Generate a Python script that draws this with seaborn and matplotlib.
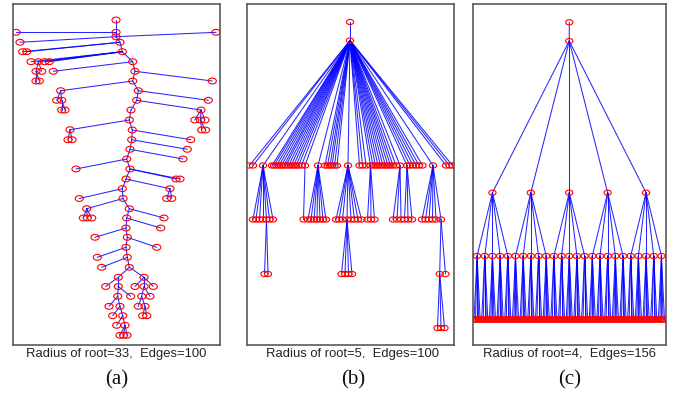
import numpy as np
import pandas as pd
import matplotlib
matplotlib.use("Agg")
import matplotlib.pyplot as plt
from matplotlib.path import Path
from matplotlib.markers import MarkerStyle
from matplotlib.transforms import Affine2D
import seaborn as sns

sns.set_theme(style="white")
plt.rcParams["font.family"] = ["Liberation Sans", "DejaVu Sans"]

# ---------------- tree (a): free layout, one entry per node ----------------
a_x = [116, 116, 116, 120, 122.3, 132.7, 135, 132.7, 138.3, 136.7,
       131, 129.3, 132.3, 131.7, 130, 126.7, 130, 126, 122.3, 123,
       129.3, 126.7, 126, 127.3, 126, 127.3, 129.3,
       118.3, 105.7, 118.3, 117.7, 130.7, 109, 120, 112.7, 122.7,
       116.7, 125, 120, 123.5, 127,
       144, 135, 144, 153.3, 141.7, 150, 138.3, 145, 142.7, 146.7,
       16, 216, 20, 22.7, 26.7, 31, 38.3, 44.5, 49.3, 36,
       41.7, 36, 39.3, 53.3, 212.3, 60.7, 56.7, 61.7, 61.7, 65,
       208.3, 201, 194.8, 200.5, 205, 201.7, 205.5, 70, 68, 72,
       190.7, 187.3, 183, 76, 176, 180, 170, 166.7, 171.7, 79.3,
       86.7, 83.3, 87.3, 91.7, 164, 160.7, 95, 156.7, 97.3, 101.7]
a_y = [20, 32.3, 36.7, 42.3, 51.7, 61.7, 71.3, 81, 90.7, 100.3,
       110, 120, 130, 139.7, 149.3, 159, 169, 179, 188.7, 198.5,
       208.7, 218, 228, 237.3, 247.3, 257.3, 267.3,
       277.3, 286.5, 286.5, 296.3, 296.3, 306.3, 306.3, 315.7, 315.7,
       325.3, 325.3, 335.3, 335.3, 335.3,
       277.3, 286.5, 286.5, 286.5, 296.3, 296.3, 306.3, 306.3, 315.7, 315.7,
       32.3, 32.3, 42.3, 51.7, 51.7, 61.7, 61.7, 61.7, 61.7, 71.3,
       71.3, 81, 81, 71.3, 81, 90.7, 100.3, 100.3, 110, 110,
       100.3, 110, 120, 120, 120, 130, 130, 129.7, 139.7, 139.7,
       139.7, 149.3, 159, 169, 179, 179, 188.7, 198.5, 198.5, 198.5,
       208.7, 218, 218, 218, 218, 228, 237.3, 247.3, 257.3, 267.3]
a_parent = [-1, 0, 1, 2, 3, 4, 5, 6, 7, 8,
            9, 10, 11, 12, 13, 14, 15, 16, 17, 18,
            19, 20, 21, 22, 23, 24, 25,
            26, 27, 27, 29, 29, 30, 30, 33, 33,
            35, 35, 37, 37, 37,
            26, 41, 41, 41, 43, 43, 45, 45, 48, 48,
            1, 2, 2, 3, 3, 4, 4, 4, 4, 57,
            57, 60, 60, 5, 6, 7, 66, 66, 68, 68,
            8, 9, 72, 72, 72, 74, 74, 11, 78, 78,
            12, 13, 14, 15, 16, 16, 17, 87, 87, 18,
            19, 91, 91, 91, 20, 21, 22, 23, 24, 25]

# ---------------- tree (b): layered, x per level and parent in level above ----------------
b_level_y = [22, 40.5, 165.5, 219.5, 274, 328]
b_top_x = [350, 350]
b_l1_x = [249.5, 253, 263,
          272, 274, 276.5, 279, 281.5, 284, 286, 288.5, 291, 293.5, 296, 298.5, 301.5, 305,
          318, 325, 327.5, 330, 332, 334.5, 337, 348, 359.5, 362.5, 366,
          370.5, 373, 375.5, 378, 380.5, 383, 385.5, 388, 390.5, 393, 396,
          400, 407, 410, 413, 416, 419, 422.5, 433, 446, 449.5, 452.5]
b_l2_x = [253, 256, 259.5, 263, 266.5, 269.5, 273,
          303.5,
          308, 311, 314, 317, 320, 323, 326,
          336, 339, 342.5, 347, 351, 354.5, 358, 361.5,
          367.5, 371, 374.5,
          393, 397, 401, 404.5, 408, 412,
          422, 425.5, 429, 432.5, 436, 441]
b_l2_parent = [2] * 7 + [16] + [17] * 7 + [24] * 8 + [28] * 3 + [39] * 3 + [40] * 3 + [46] * 6
b_l3_x = [264.5, 268, 341.5, 345, 348.5, 352, 439.7, 445.5]
b_l3_parent = [4, 4, 18, 18, 18, 18, 37, 37]
b_l4_x = [437.5, 441, 444.5]
b_l4_parent = [6, 6, 6]

# ---------------- tree (c): regular tree, children per node at each depth ----------------
c_branching = [1, 5, 5, 5]
c_level_y = [22.3, 41, 192.7, 256, 319.5]
c_top_x = 569.3
c_leaf_span = (474, 664.5)

# panel frames in figure pixels: left, right ; shared top / bottom
FIG_W, FIG_H = 685, 397
TOP, BOTTOM = 4, 345
frames = [(12.7, 220.3), (246.7, 453.8), (472.7, 666.3)]
panel_labels = ["(a)", "(b)", "(c)"]
label_x = [116.5, 353, 569.5]


def layered_tree(level_x, level_parent, level_y):
    xs, ys, parents, offsets, start = [], [], [], [], 0
    for lvl, (xl, pl) in enumerate(zip(level_x, level_parent)):
        offsets.append(start)
        for x, p in zip(xl, pl):
            xs.append(x)
            ys.append(level_y[lvl])
            parents.append(-1 if p is None else offsets[lvl - 1] + p)
        start += len(xl)
    return xs, ys, parents


def regular_tree(branching, level_y, top_x, span):
    # number of nodes per level and parent index inside the previous level
    counts = [1]
    for b in branching:
        counts.append(counts[-1] * b)
    level_parent = [[None]]
    for lvl, b in enumerate(branching):
        level_parent.append([i // b for i in range(counts[lvl + 1])])
    # leaves evenly spread, every parent centred over its children
    level_x = [None] * len(counts)
    level_x[-1] = list(np.linspace(span[0], span[1], counts[-1]))
    for lvl in range(len(counts) - 2, 0, -1):
        kids = np.array(level_x[lvl + 1])
        par = np.array(level_parent[lvl + 1])
        level_x[lvl] = [kids[par == i].mean() for i in range(counts[lvl])]
    level_x[0] = [top_x]
    return layered_tree(level_x, level_parent, level_y)


def max_depth(parents):
    best = 0
    for i in range(len(parents)):
        k, n = i, 0
        while parents[k] >= 0:
            k = parents[k]
            n += 1
        best = max(best, n)
    return best


b_nodes = layered_tree(
    [b_top_x[:1], b_top_x[1:], b_l1_x, b_l2_x, b_l3_x, b_l4_x],
    [[None], [0], [0] * len(b_l1_x), b_l2_parent, b_l3_parent, b_l4_parent],
    b_level_y)
c_nodes = regular_tree(c_branching, c_level_y, c_top_x, c_leaf_span)
trees = [(a_x, a_y, a_parent), b_nodes, c_nodes]
marker_sizes = [34, 27, 27]

ellipse = MarkerStyle(Path.unit_circle().transformed(Affine2D().scale(1.0, 0.72)))

fig = plt.figure(figsize=(FIG_W / 100, FIG_H / 100), dpi=100)

for (xs, ys, parents), (left, right), lab, lx, ms in zip(trees, frames, panel_labels, label_x, marker_sizes):
    ax = fig.add_axes([left / FIG_W, 1 - BOTTOM / FIG_H,
                       (right - left) / FIG_W, (BOTTOM - TOP) / FIG_H])
    nodes = pd.DataFrame({"x": xs, "y": ys})
    rows = []
    for i, p in enumerate(parents):
        if p >= 0:
            rows.append((i, xs[p], ys[p]))
            rows.append((i, xs[i], ys[i]))
    edges = pd.DataFrame(rows, columns=["edge", "x", "y"])

    sns.lineplot(data=edges, x="x", y="y", units="edge", estimator=None, sort=False,
                 color="#0000ff", lw=0.75, alpha=0.85, ax=ax, legend=False)
    sns.scatterplot(data=nodes, x="x", y="y", marker=ellipse, s=ms,
                    facecolor="none", edgecolor="#ff0000", linewidth=0.8,
                    ax=ax, legend=False, zorder=3)
    pts = ax.collections[-1]
    pts.set_facecolor("none")
    pts.set_edgecolor("#ff0000")

    ax.set_xlim(left, right)
    ax.set_ylim(BOTTOM, TOP)
    ax.set_xticks([])
    ax.set_yticks([])
    ax.set_xlabel("")
    ax.set_ylabel("")
    for sp in ax.spines.values():
        sp.set_visible(True)
        sp.set_color("#5a5a5a")
        sp.set_linewidth(1.2)

    n_edges = sum(1 for p in parents if p >= 0)
    caption = f"Radius of root={max_depth(parents)},  Edges={n_edges}"
    fig.text(lx / FIG_W, 1 - 353.5 / FIG_H, caption, ha="center", va="center",
             fontsize=9.4, color="#222222")
    fig.text(lx / FIG_W, 1 - 380 / FIG_H, lab, ha="center", va="center",
             fontsize=15, color="#111111", family=["Liberation Serif", "DejaVu Serif"])

fig.savefig("out.png", dpi=100)
